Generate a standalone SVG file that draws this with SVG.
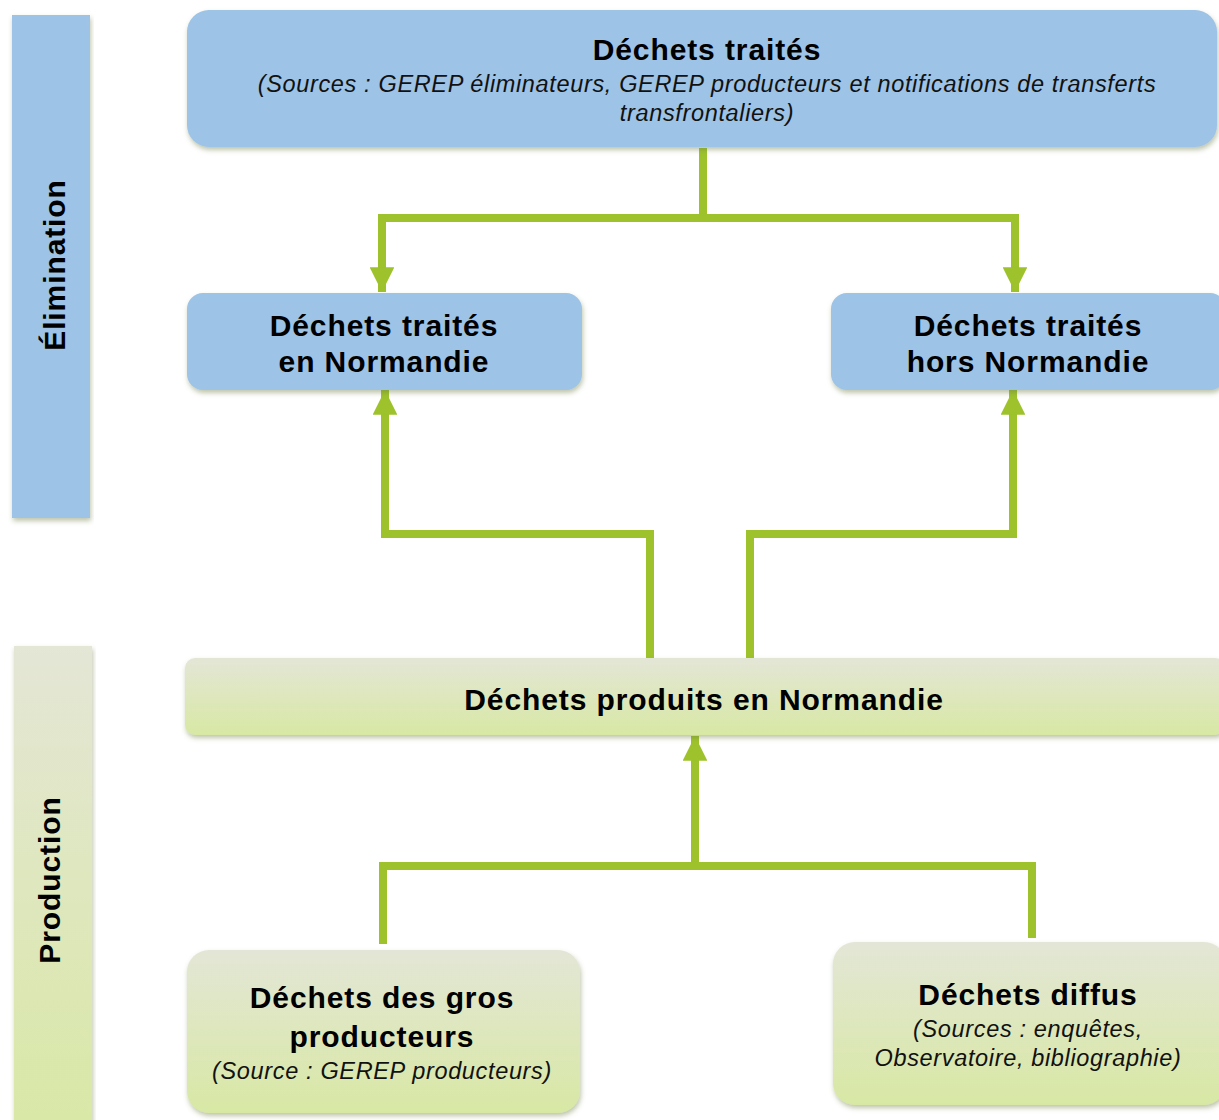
<svg xmlns="http://www.w3.org/2000/svg" width="1219" height="1120" viewBox="0 0 1219 1120">
<defs>
<style>
.b{font-family:"Liberation Sans",Arial,sans-serif;font-weight:bold;font-size:30px;letter-spacing:0.9px;fill:#000;text-anchor:middle}
.i{font-family:"Liberation Sans",Arial,sans-serif;font-style:italic;font-size:23.5px;letter-spacing:0.65px;fill:#111;text-anchor:middle}
.blue{fill:#9DC3E6}
.con{fill:none;stroke:#9DC22B;stroke-width:8;stroke-linejoin:miter}
</style>
<linearGradient id="gp" x1="0" y1="0" x2="0" y2="1">
<stop offset="0" stop-color="#E4E6D6"/>
<stop offset="1" stop-color="#D9E8A6"/>
</linearGradient>
<linearGradient id="gb" x1="0" y1="0" x2="0" y2="1">
<stop offset="0" stop-color="#E3E6D6"/>
<stop offset="1" stop-color="#D8E8A4"/>
</linearGradient>
<filter id="sh" x="-5%" y="-5%" width="110%" height="120%">
<feDropShadow dx="1" dy="3" stdDeviation="2.5" flood-color="#6E7F46" flood-opacity="0.45"/>
</filter>
<marker id="ah" viewBox="0 0 10 10" refX="10" refY="5" markerWidth="3.1" markerHeight="3.1" orient="auto" markerUnits="strokeWidth">
<path d="M0,0 L10,5 L0,10 Z" fill="#9DC22B"/>
</marker>
</defs>
<rect width="1219" height="1120" fill="#fff"/>

<g id="side-elimination">
<rect x="12" y="15" width="78" height="503" class="blue" filter="url(#sh)"/>
<text class="b" transform="translate(65,265) rotate(-90)">Élimination</text>
</g>
<g id="side-production">
<rect x="14" y="646" width="78" height="480" fill="url(#gp)" filter="url(#sh)"/>
<text class="b" transform="translate(60,880) rotate(-90)">Production</text>
</g>

<g id="connectors">
<path class="con" d="M703,148 V218 H382 V292" marker-end="url(#ah)"/>
<path class="con" d="M703,218 H1015 V292" marker-end="url(#ah)"/>
<path class="con" d="M650,658 V534 H385 V390" marker-end="url(#ah)"/>
<path class="con" d="M750,658 V534 H1013 V390" marker-end="url(#ah)"/>
<path class="con" d="M383,944 V866 H695 V736" marker-end="url(#ah)"/>
<path class="con" d="M1032,938 V866 H695"/>
</g>

<g id="node-traites">
<rect x="187" y="10" width="1030" height="137" rx="22" class="blue" filter="url(#sh)"/>
<text class="b" x="707" y="60">Déchets traités</text>
<text class="i" x="707" y="92">(Sources : GEREP éliminateurs, GEREP producteurs et notifications de transferts</text>
<text class="i" x="707" y="121">transfrontaliers)</text>
</g>
<g id="node-normandie">
<rect x="187" y="293" width="395" height="97" rx="16" class="blue" filter="url(#sh)"/>
<text class="b" x="384" y="336">Déchets traités</text>
<text class="b" x="384" y="372">en Normandie</text>
</g>
<g id="node-hors">
<rect x="831" y="293" width="395" height="97" rx="16" class="blue" filter="url(#sh)"/>
<text class="b" x="1028" y="336">Déchets traités</text>
<text class="b" x="1028" y="372">hors Normandie</text>
</g>
<g id="node-produits">
<rect x="185" y="658" width="1040" height="77" rx="10" fill="url(#gb)" filter="url(#sh)"/>
<text class="b" x="704" y="710">Déchets produits en Normandie</text>
</g>
<g id="node-gros">
<rect x="187" y="950" width="393" height="163" rx="22" fill="url(#gb)" filter="url(#sh)"/>
<text class="b" x="382" y="1008">Déchets des gros</text>
<text class="b" x="382" y="1047">producteurs</text>
<text class="i" x="382" y="1079">(Source : GEREP producteurs)</text>
</g>
<g id="node-diffus">
<rect x="833" y="942" width="393" height="163" rx="22" fill="url(#gb)" filter="url(#sh)"/>
<text class="b" x="1028" y="1005">Déchets diffus</text>
<text class="i" x="1028" y="1037">(Sources : enquêtes,</text>
<text class="i" x="1028" y="1066">Observatoire, bibliographie)</text>
</g>
</svg>
